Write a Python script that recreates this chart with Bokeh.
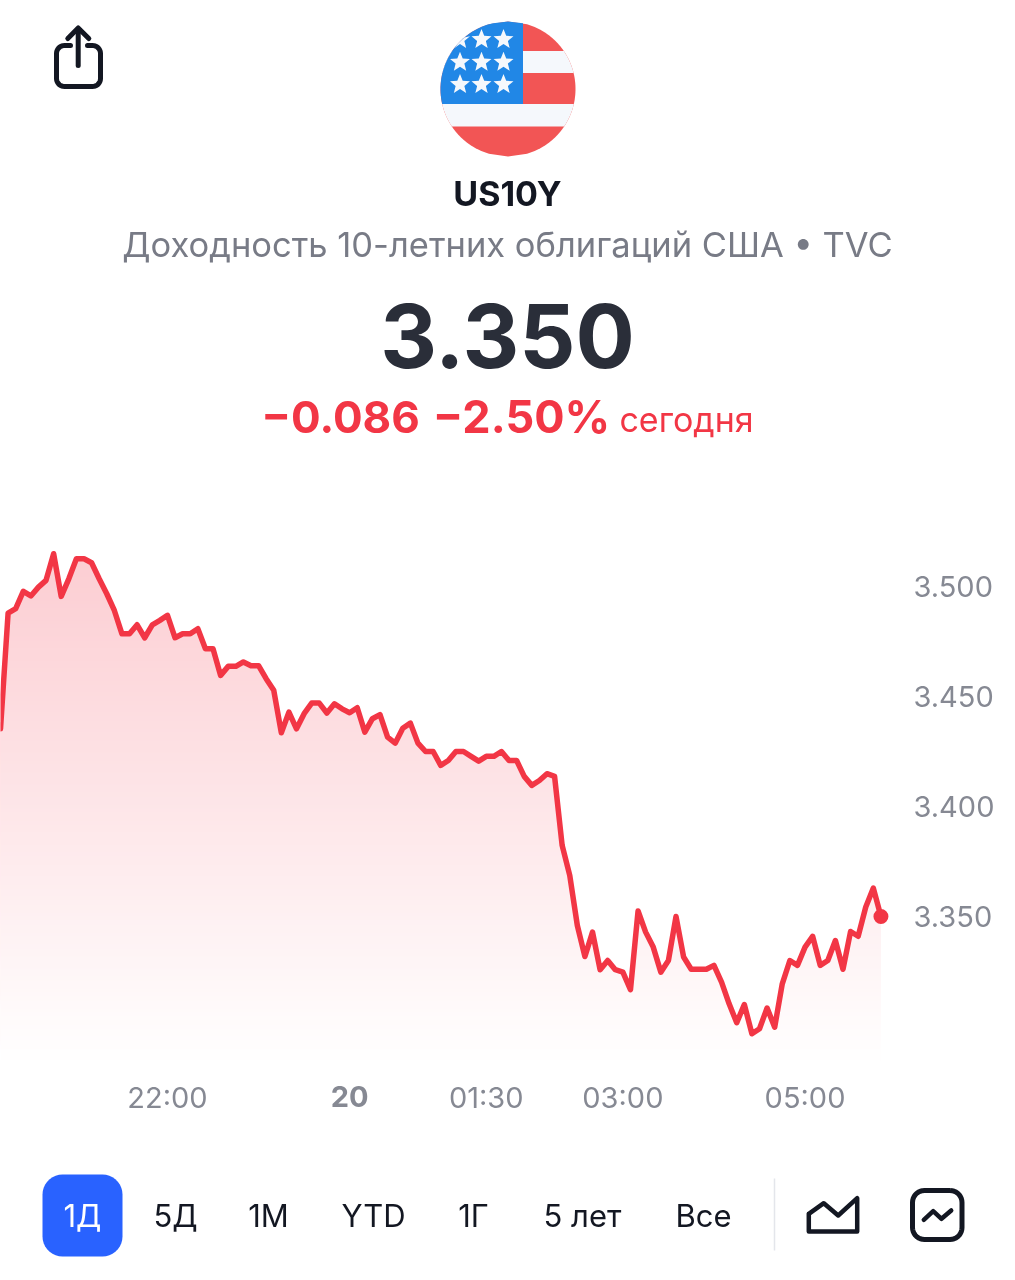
import numpy as np
from bokeh.plotting import figure
from bokeh.models import Range1d, FixedTicker, LinearAxis
from bokeh.core.properties import value
from bokeh.embed import file_html
from bokeh.resources import INLINE

# ---- data ----
symbol = "US10Y"
subtitle = "Доходность 10-летних облигаций США • TVC"
last_price = "3.350"
change_abs = "−0.086"
change_pct = "−2.50%"
change_word = "сегодня"
# yield, sampled every 5 minutes; first sample 20:10 (minutes relative to midnight)
start_minute = -230
step_minutes = 5
yields = [
    3.4353, 3.4879, 3.4899, 3.4978, 3.4957, 3.4997, 3.5028, 3.5149, 3.4955, 3.5035,
    3.5126, 3.5126, 3.5108, 3.5035, 3.4967, 3.4891, 3.4785, 3.4785, 3.4826, 3.4767,
    3.4826, 3.4846, 3.4869, 3.4767, 3.4785, 3.4785, 3.4808, 3.4717, 3.4717, 3.4596,
    3.4637, 3.4637, 3.4657, 3.4640, 3.4640, 3.4581, 3.4528, 3.4335, 3.4429, 3.4353,
    3.4422, 3.4470, 3.4470, 3.4425, 3.4467, 3.4444, 3.4426, 3.4449, 3.4338, 3.4399,
    3.4418, 3.4315, 3.4288, 3.4356, 3.4379, 3.4288, 3.4250, 3.4250, 3.4187, 3.4209,
    3.4250, 3.4250, 3.4228, 3.4206, 3.4228, 3.4228, 3.4250, 3.4209, 3.4209, 3.4137,
    3.4096, 3.4118, 3.4149, 3.4137, 3.3823, 3.3687, 3.3459, 3.3318, 3.3429, 3.3258,
    3.3300, 3.3258, 3.3247, 3.3167, 3.3525, 3.3429, 3.3361, 3.3247, 3.3300, 3.3500,
    3.3316, 3.3260, 3.3260, 3.3260, 3.3278, 3.3202, 3.3103, 3.3017, 3.3100, 3.2967,
    3.2990, 3.3084, 3.2997, 3.3194, 3.3300, 3.3278, 3.3361, 3.3410, 3.3278, 3.3300,
    3.3391, 3.3260, 3.3432, 3.3410, 3.3543, 3.3629, 3.3500,
]
y_ticks = [3.35, 3.40, 3.45, 3.50]
y_tick_labels = ["3.350", "3.400", "3.450", "3.500"]
x_ticks = [-120, 90, 180, 300]
x_tick_labels = ["22:00", "01:30", "03:00", "05:00"]
day_tick = 0
day_label = "20"
buttons = ["1Д", "5Д", "1М", "YTD", "1Г", "5 лет", "Все"]
button_x = [82, 175, 268, 373, 473, 582, 703]

# ---- style ----
FONT = "Inter"
DARK = "#131722"
RED = "#f23645"
GREY = "#868993"
GRAD_TOP = np.array([252, 205, 210])
WIDTH = 1015


def place(f, top):
    f.styles = {"position": "fixed", "left": "0px", "top": f"{top}px"}


def canvas(height, top):
    f = figure(width=WIDTH, height=height, x_range=Range1d(0, WIDTH),
               y_range=Range1d(top + height, top), tools="", toolbar_location=None,
               output_backend="svg", min_border=0, outline_line_color=None,
               x_axis_type=None, y_axis_type=None)
    f.grid.visible = False
    place(f, top)
    return f


def txt(f, x, y, s, size, color, style="normal", align="center"):
    f.text([x], [y], text=[s], text_font=value(FONT), text_font_size=f"{size}px",
           text_font_style=style, text_color=color, text_align=align,
           text_baseline="middle")


def rounded(x0, y0, x1, y1, r):
    t = np.linspace(0, np.pi / 2, 10)
    xs = np.concatenate([x1 - r + r * np.sin(t), x1 - r + r * np.cos(t),
                         x0 + r - r * np.sin(t), x0 + r - r * np.cos(t), [x1 - r]])
    ys = np.concatenate([y0 + r - r * np.cos(t), y1 - r + r * np.sin(t),
                         y1 - r + r * np.cos(t), y0 + r - r * np.sin(t), [y0]])
    return xs, ys


# ---- header ----
head = canvas(500, 0)
CX, CY, R = 507.5, 88.5, 67.5


def disc_part(x0, x1, y0, y1, color):
    yy = np.linspace(y0, y1, 50)
    half = np.sqrt(np.maximum(R ** 2 - (yy - CY) ** 2, 0))
    left = np.maximum(x0, CX - half)
    right = np.minimum(x1, CX + half)
    head.patch(np.r_[left, right[::-1]], np.r_[yy, yy[::-1]], fill_color=color, line_color=None)


BLUE, FRED, FWHITE = "#2187e6", "#f25555", "#f5f8fc"
disc_part(CX - R, CX + R, CY - R, CY + R, FRED)
disc_part(CX - R, CX + R, 50.5, 72.5, FWHITE)
disc_part(CX - R, CX + R, 103.5, 126, FWHITE)
disc_part(CX - R, 522.5, CY - R, 103.5, BLUE)
for sy in (39, 61.7, 84):
    for sx in (459.5, 481, 503):
        ang = np.linspace(-np.pi / 2, 1.5 * np.pi, 11)[:-1]
        rad = np.where(np.arange(10) % 2 == 0, 10.5, 4.6)
        px, py = sx + rad * np.cos(ang), sy + rad * np.sin(ang)
        d = np.hypot(px - CX, py - CY)
        k = np.minimum(1, R / d)
        head.patch(CX + (px - CX) * k, CY + (py - CY) * k, fill_color=FWHITE, line_color=None)

# share icon
bx, by = rounded(56, 45, 100, 86, 8)
share_x = np.r_[87, bx[:-1], 70]
share_y = np.r_[45, by[:-1], 45]
head.line(share_x, share_y, line_color=DARK, line_width=5, line_cap="round", line_join="round")
head.line([77.7, 77.7], [29, 65], line_color=DARK, line_width=5, line_cap="round")
head.line([67.3, 77.7, 88.3], [38, 27.5, 38], line_color=DARK, line_width=5,
          line_cap="round", line_join="round")

txt(head, 507, 193, symbol, 34, DARK, "bold")
txt(head, 507, 244, subtitle, 34.5, "#787b86")
txt(head, 507, 335, last_price, 88, "#2a2e39", "bold")
txt(head, 340, 416, change_abs, 44, RED, "bold")
txt(head, 521, 416, change_pct, 45, RED, "bold")
txt(head, 686, 419, change_word, 34, RED, "normal")

# ---- chart ----
PX_PER_UNIT = 2200.0
PX_PER_MIN = 1.518
FRAME_W, FRAME_H, TOP = 905, 562, 500
y_at = lambda py: 3.35 + (916 - py) / PX_PER_UNIT
chart = figure(width=WIDTH, height=630, tools="", toolbar_location=None, output_backend="svg",
               x_range=Range1d(start_minute, start_minute + FRAME_W / PX_PER_MIN),
               y_range=Range1d(y_at(TOP + FRAME_H), y_at(TOP)),
               y_axis_location="right", min_border_left=0, min_border_top=0,
               min_border_right=WIDTH - FRAME_W, min_border_bottom=630 - FRAME_H,
               outline_line_color=None)
chart.grid.visible = False
place(chart, TOP)

minutes = start_minute + step_minutes * np.arange(len(yields))
series = np.array(yields)

# vertical fade below the line: painted from the top level downwards
bottom = y_at(TOP + FRAME_H)
for py in range(540, TOP + FRAME_H, 4):
    frac = min(1.0, max(0.0, (py - 550) / (1062 - 550)))
    c = GRAD_TOP + (np.array([255, 255, 255]) - GRAD_TOP) * frac
    color = "#%02x%02x%02x" % tuple(int(round(v)) for v in c)
    chart.varea(minutes, y1=np.full(len(series), bottom),
                y2=np.minimum(series, y_at(py)), fill_color=color)

chart.line(minutes, series, line_color=RED, line_width=5.5, line_join="round", line_cap="round")
chart.scatter(minutes[-1:], series[-1:], size=15, fill_color=RED, line_color=None)

day_axis = LinearAxis(ticker=FixedTicker(ticks=[day_tick]),
                      major_label_overrides={day_tick: day_label})
chart.add_layout(day_axis, "below")

for ax in (chart.xaxis[0], chart.yaxis[0], day_axis):
    ax.axis_line_color = None
    ax.major_tick_line_color = None
    ax.minor_tick_line_color = None
    ax.major_label_text_font = FONT
    ax.major_label_text_font_size = "29px"
    ax.major_label_text_color = GREY
chart.xaxis[0].ticker = FixedTicker(ticks=x_ticks)
chart.xaxis[0].major_label_overrides = dict(zip(x_ticks, x_tick_labels))
chart.xaxis[0].major_label_standoff = 11
day_axis.major_label_text_font_style = "bold"
day_axis.major_label_standoff = -38
chart.yaxis[0].ticker = FixedTicker(ticks=y_ticks)
chart.yaxis[0].major_label_overrides = dict(zip(y_ticks, y_tick_labels))
chart.yaxis[0].major_label_standoff = 2

# ---- footer ----
foot = canvas(150, 1130)
bx, by = rounded(42, 1174, 122, 1256, 20)
foot.patch(bx, by, fill_color="#2962ff", line_color=None)
for i, (b, x) in enumerate(zip(buttons, button_x)):
    txt(foot, x, 1215, b, 31, "#ffffff" if i == 0 else DARK)
foot.line([774, 774], [1178, 1250], line_color="#e4e6eb", line_width=1.5)
foot.line([808.3, 823.3, 837.7, 856.7, 856.7, 808.3, 808.3],
          [1213.3, 1202.7, 1215, 1197.7, 1231, 1231, 1213.3],
          line_color=DARK, line_width=4.5, line_join="round", line_cap="round")
bx, by = rounded(912, 1190, 961.5, 1239, 12)
foot.line(bx, by, line_color=DARK, line_width=5, line_join="round")
foot.line([923.3, 932.7, 941, 950.7], [1219.3, 1210.7, 1218.3, 1210],
          line_color=DARK, line_width=4.5, line_join="round", line_cap="round")

p = [head, chart, foot]
open("out.html", "w").write(file_html(p, INLINE))
